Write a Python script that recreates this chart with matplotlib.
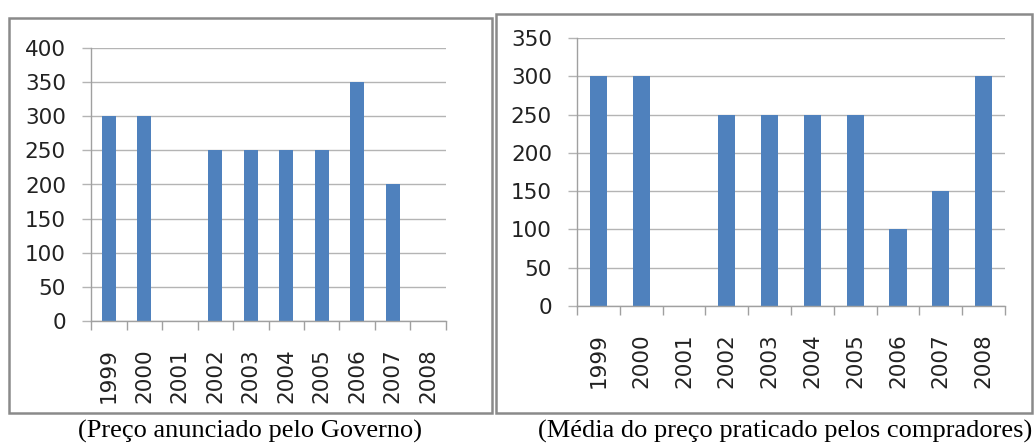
import numpy as np
import matplotlib
matplotlib.use('Agg')
import matplotlib.pyplot as plt
from matplotlib.patches import Rectangle

# data
years = ['1999', '2000', '2001', '2002', '2003', '2004', '2005', '2006', '2007', '2008']
preco_governo = [300, 300, 0, 250, 250, 250, 250, 350, 200, 0]
preco_compradores = [300, 300, 0, 250, 250, 250, 250, 100, 150, 300]

caption_left = '(Preço anunciado pelo Governo)'
caption_right = '(Média do preço praticado pelos compradores)'

bar_color = '#4f81bd'
grid_color = '#b4b4b4'
axis_color = '#a0a0a0'
text_color = '#222222'

fig = plt.figure(figsize=(10.34, 4.44), dpi=100)
W, H = 1034, 444


def px_box(x0, y0, x1, y1):
    # pixel box (top-left origin) -> figure fraction [left, bottom, width, height]
    return [x0 / W, 1 - y1 / H, (x1 - x0) / W, (y1 - y0) / H]


def excel_bars(ax, values, ymax, step):
    x = np.arange(len(years))
    ax.bar(x, values, width=0.4, color=bar_color, linewidth=0, zorder=3)
    ax.set_xlim(-0.5, len(years) - 0.5)
    ax.set_ylim(0, ymax)
    ax.set_yticks(np.arange(0, ymax + 1, step))
    ax.set_xticks(x)
    ax.set_xticklabels(years, rotation=90, fontsize=15.5, color=text_color)
    ax.set_xticks(np.arange(-0.5, len(years)), minor=True)
    ax.tick_params(axis='x', which='major', length=0, pad=19.5)
    ax.tick_params(axis='x', which='minor', length=6.3, width=1.0, color=axis_color)
    ax.tick_params(axis='y', length=6.5, width=1.0, color=grid_color, pad=11.5,
                   labelsize=15.5, labelcolor=text_color)
    ax.yaxis.grid(True, color=grid_color, linewidth=1.0, zorder=0)
    ax.set_axisbelow(True)
    for side in ['top', 'right']:
        ax.spines[side].set_visible(False)
    for side in ['left', 'bottom']:
        ax.spines[side].set_color(axis_color)
        ax.spines[side].set_linewidth(1.0)
    ax.spines['bottom'].set_zorder(4)


# gray frames round each chart
for x0, y0, x1, y1 in [(9, 18, 492, 413), (496, 14, 1032, 413)]:
    l, b, w, h = px_box(x0, y0, x1, y1)
    fig.patches.append(Rectangle((l, b), w, h, transform=fig.transFigure,
                                 fill=False, edgecolor='#8a8a8a', linewidth=1.8))

ax1 = fig.add_axes(px_box(91, 48, 446, 321))
excel_bars(ax1, preco_governo, 400, 50)

ax2 = fig.add_axes(px_box(577, 38, 1005, 306))
excel_bars(ax2, preco_compradores, 350, 50)

fig.text(250 / W, 1 - 438 / H, caption_left, ha='center', va='baseline',
         fontsize=19, family='Liberation Serif', color='black')
fig.text(785 / W, 1 - 438 / H, caption_right, ha='center', va='baseline',
         fontsize=19, family='Liberation Serif', color='black')

plt.savefig('out.png', dpi=100)
